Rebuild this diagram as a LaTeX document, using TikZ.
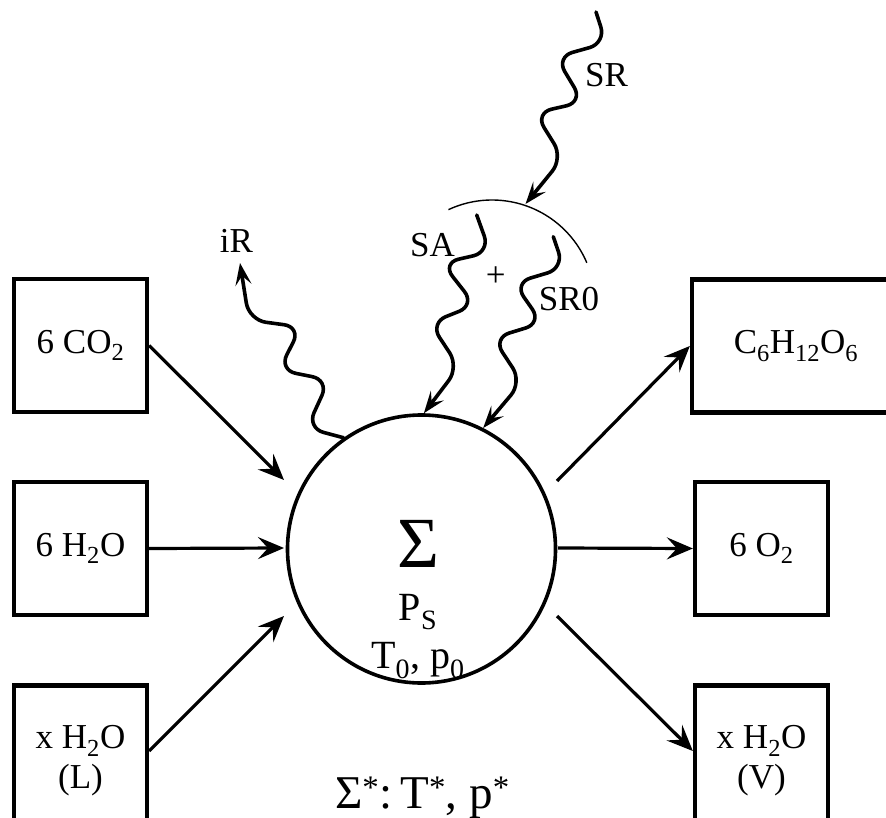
\documentclass[tikz,border=0pt]{standalone}
\usepackage{fontspec}
\setmainfont{Liberation Serif}
\usetikzlibrary{arrows.meta}
\begin{document}
\begin{tikzpicture}[x=1pt,y=-1pt,
  box/.style={draw, line width=4.3pt, minimum width=133pt, minimum height=133pt,
    inner sep=0pt, font=\fontsize{35}{40}\selectfont, align=center},
  arr/.style={line width=3.2pt, -{Stealth[length=26pt,width=22pt,inset=10pt]}},
  wave/.style={line width=3.6pt, line cap=round, line join=round, rounded corners=17pt,
    -{Stealth[length=22pt,width=16pt,inset=9pt]}},
  lbl/.style={font=\fontsize{35}{40}\selectfont, inner sep=0pt, anchor=base},
  inner/.style={font=\fontsize{40}{44}\selectfont, inner sep=0pt, anchor=base}]
\useasboundingbox (0,0) rectangle (886,818);
\clip (0,0) rectangle (886,818);

% boxes
\node[box] (co2) at (80.5,345.5) {6 CO\textsubscript{2}};
\node[box] (h2o) at (80.5,548.5) {6 H\textsubscript{2}O};
\node[box, minimum height=150pt] (wl) at (80.5,760.5) {x H\textsubscript{2}O\\(L)};
\node[box, minimum width=208pt] (glu) at (796,346) {C\textsubscript{6}H\textsubscript{12}O\textsubscript{6}};
\node[box] (o2) at (761.5,548.5) {6 O\textsubscript{2}};
\node[box, minimum height=150pt] (wv) at (761.5,760.5) {x H\textsubscript{2}O\\(V)};

% system circle
\node[circle, draw, line width=3.6pt, minimum size=268pt, inner sep=0pt] (sys) at (421.5,549) {};
\node[font=\fontsize{72}{76}\selectfont, inner sep=0pt, anchor=base] (sig) at (418,567) {Σ};
\node[inner] (ps) at (418,620) {P\textsubscript{S}};
\node[inner] (tp) at (418,668) {T\textsubscript{0}, p\textsubscript{0}};
\node[font=\fontsize{47}{50}\selectfont, inner sep=0pt, anchor=base] (env) at (422.5,808)
  {Σ\textsuperscript{*}:\,T\textsuperscript{*}, p\textsuperscript{*}};

% arrow end points near the circle
\coordinate (i1) at (284,480);
\coordinate (i2) at (284,548);
\coordinate (i3) at (284,616);
\coordinate (o1) at (557,481);
\coordinate (o2s) at (558,548);
\coordinate (o3) at (557,616);

\draw[arr] (co2.east) -- (i1);
\draw[arr] (h2o.east) -- (i2);
\draw[arr] ([yshift=9.5pt]wl.east) -- (i3);
\draw[arr] (o1) -- (glu.west);
\draw[arr] (o2s) -- (o2.west);
\draw[arr] (o3) -- ([yshift=9.5pt]wv.west);

% arc
\coordinate (arcc) at (492,303);
\draw[line width=1.4pt] (arcc) ++(-115:103) arc[start angle=-115, end angle=-23, radius=103];
\coordinate (arcpt) at (525.5,204);

% wavy radiation
\coordinate (srS) at (596,12);
\draw[wave] (srS) -- (606,43) -- (556,57) -- (583,102) -- (535,113) -- (563,158) -- (arcpt);
\coordinate (saS) at (476.7,215);
\draw[wave] (saS) -- (490,252) -- (442,263) -- (475,305) -- (430,323) -- (459,367) -- (sys.89);
\coordinate (sr0S) at (553.3,236.7);
\draw[wave] (sr0S) -- (564,268) -- (514,283) -- (542,323) -- (493,338) -- (522,382) -- (sys.63);
\coordinate (irE) at (240,263);
\draw[wave] (sys.125) -- (307,428) -- (329,380) -- (279,370) -- (301,327) -- (249,320) -- (irE);

% labels
\node[lbl] (lsr) at (606.5,87) {SR};
\node[lbl] (lsa) at (432.5,257) {SA};
\node[lbl] (lir) at (236.5,253) {iR};
\node[lbl] (lsr0) at (569,310) {SR0};
\node[lbl] (plus) at (495.7,286.5) {+};
\end{tikzpicture}
\end{document}
